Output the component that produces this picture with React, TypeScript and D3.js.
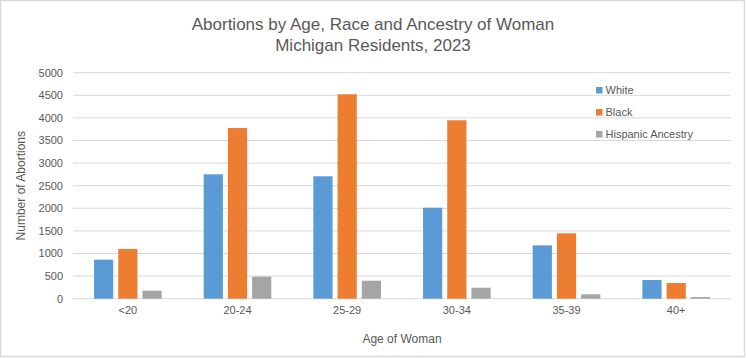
import React, { useEffect, useRef } from 'react';
import * as d3 from 'd3';

const ageGroups = ['<20', '20-24', '25-29', '30-34', '35-39', '40+'];
const seriesNames = ['White', 'Black', 'Hispanic Ancestry'];
const whiteValues = [863, 2752, 2708, 2013, 1181, 414];
const blackValues = [1100, 3776, 4522, 3947, 1447, 347];
const hispanicValues = [177, 487, 398, 243, 97, 38];
const yTicks = [0, 500, 1000, 1500, 2000, 2500, 3000, 3500, 4000, 4500, 5000];
const colors = ['#5b9bd5', '#ed7d31', '#a5a5a5'];

const width = 746;
const height = 358;

const App: React.FC = () => {
  const svgRef = useRef<SVGSVGElement>(null);

  useEffect(() => {
    const svg = d3.select(svgRef.current);
    svg.selectAll('*').remove();

    const font = '"Liberation Sans", Arial, sans-serif';
    const textColor = '#595959';
    const margin = { top: 72.7, right: 15, bottom: 59.3, left: 73 };
    const innerWidth = width - margin.left - margin.right;
    const innerHeight = height - margin.top - margin.bottom;

    // frame
    svg.append('rect')
      .attr('x', 0.5)
      .attr('y', 0.5)
      .attr('width', width - 2)
      .attr('height', height - 2)
      .attr('fill', '#fff')
      .attr('stroke', '#d9d9d9')
      .attr('stroke-width', 1.5);

    const g = svg.append('g')
      .attr('transform', `translate(${margin.left},${margin.top})`);

    const x0 = d3.scaleBand()
      .domain(ageGroups)
      .range([0, innerWidth]);

    const barW = 19.2;
    const step = 24.2;

    const y = d3.scaleLinear()
      .domain([0, 5000])
      .range([innerHeight, 0]);

    // gridlines
    g.selectAll('.grid')
      .data(yTicks)
      .enter()
      .append('line')
      .attr('x1', 0)
      .attr('x2', innerWidth)
      .attr('y1', d => y(d))
      .attr('y2', d => y(d))
      .attr('stroke', '#d9d9d9')
      .attr('stroke-width', 1);

    // y tick labels
    g.selectAll('.ytick')
      .data(yTicks)
      .enter()
      .append('text')
      .attr('x', -10)
      .attr('y', d => y(d))
      .attr('dy', '0.35em')
      .attr('text-anchor', 'end')
      .style('font-family', font)
      .style('font-size', '11px')
      .style('fill', textColor)
      .text(d => d);

    const series = [whiteValues, blackValues, hispanicValues];

    series.forEach((vals, si) => {
      g.selectAll(`.bar-${si}`)
        .data(vals)
        .enter()
        .append('rect')
        .attr('x', (d, i) => (x0(ageGroups[i]) || 0) + x0.bandwidth() / 2 - step + (si * step) - barW / 2)
        .attr('y', d => y(d))
        .attr('width', barW)
        .attr('height', d => y(0) - y(d))
        .attr('fill', colors[si]);
    });

    // x tick labels
    g.selectAll('.xtick')
      .data(ageGroups)
      .enter()
      .append('text')
      .attr('x', d => (x0(d) || 0) + x0.bandwidth() / 2)
      .attr('y', innerHeight + 15)
      .attr('text-anchor', 'middle')
      .style('font-family', font)
      .style('font-size', '11px')
      .style('fill', textColor)
      .text(d => d);

    // axis titles
    g.append('text')
      .attr('x', innerWidth / 2)
      .attr('y', innerHeight + 44)
      .attr('text-anchor', 'middle')
      .style('font-family', font)
      .style('font-size', '12px')
      .style('fill', textColor)
      .text('Age of Woman');

    svg.append('text')
      .attr('transform', `translate(25,${margin.top + innerHeight / 2}) rotate(-90)`)
      .attr('text-anchor', 'middle')
      .style('font-family', font)
      .style('font-size', '12px')
      .style('fill', textColor)
      .text('Number of Abortions');

    // title
    const title = svg.append('text')
      .attr('text-anchor', 'middle')
      .style('font-family', font)
      .style('font-size', '17px')
      .style('fill', textColor);
    title.append('tspan').attr('x', 373).attr('y', 30).text('Abortions by Age, Race and Ancestry of Woman');
    title.append('tspan').attr('x', 373).attr('y', 51).text('Michigan Residents, 2023');

    // legend
    const legend = svg.append('g').attr('transform', 'translate(596, 90)');
    const items = legend.selectAll('.legend-item')
      .data(seriesNames)
      .enter()
      .append('g')
      .attr('transform', (d, i) => `translate(0, ${i * 22})`);
    items.append('rect')
      .attr('x', 0)
      .attr('y', -3)
      .attr('width', 6.5)
      .attr('height', 6.5)
      .attr('fill', (d, i) => colors[i]);
    items.append('text')
      .attr('x', 9.5)
      .attr('y', 0)
      .attr('dy', '0.35em')
      .style('font-family', font)
      .style('font-size', '11px')
      .style('fill', textColor)
      .text(d => d);
  }, []);

  return (
    <svg
      ref={svgRef}
      width={width}
      height={height}
      style={{ position: 'absolute', left: 0, top: 0, display: 'block' }}
    />
  );
};

export default App;
